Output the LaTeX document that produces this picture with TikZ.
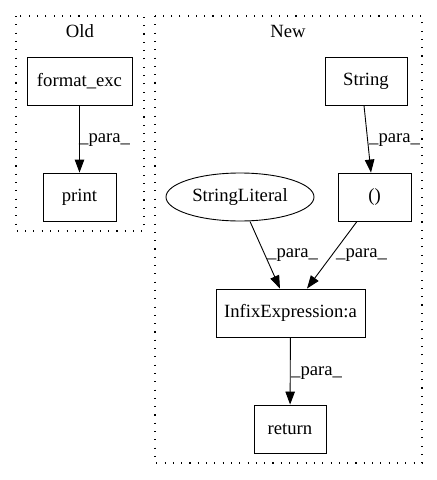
\documentclass[tikz,border=0pt]{standalone}
\usepackage{fontspec}
\setmainfont{Liberation Serif}
\usetikzlibrary{arrows.meta,shapes.geometric}
\begin{document}
\begin{tikzpicture}[x=1pt,y=-1pt,
  box/.style={draw,line width=0.9pt,rectangle,minimum height=48pt,inner sep=0pt,font=\fontsize{18.67}{21}\selectfont},
  ell/.style={draw,line width=0.9pt,ellipse,minimum width=148pt,minimum height=48pt,inner sep=0pt,font=\fontsize{18.67}{21}\selectfont},
  cluster/.style={draw,line width=1.2pt,dash pattern=on 1.1pt off 7.2pt},
  edge/.style={draw,line width=0.9pt,-{Triangle[length=13pt,width=9.5pt]}},
  lbl/.style={font=\fontsize{18.67}{21}\selectfont,inner sep=0pt,anchor=west},
  ttl/.style={font=\fontsize{18.67}{21}\selectfont,inner sep=0pt}]
\useasboundingbox (0,0) rectangle (437,480);
\draw[cluster] (16,16) rectangle (144,231);
\draw[cluster] (155,16) rectangle (422,463);
\node[ttl] (told) at (80,31) {Old};
\node[ttl] (tnew) at (288,31) {New};
\node[box,minimum width=105pt] (fmt) at (79.5,81) {format\_exc};
\node[box,minimum width=73pt] (print) at (79.5,197) {print};
\node[box,minimum width=82pt] (str) at (366,81) {String};
\node[box,minimum width=73pt] (par) at (374.5,197) {()};
\node[ell] (sl) at (240,197) {StringLiteral};
\node[box,minimum width=149pt] (inf) at (290.5,313) {InfixExpression:a};
\node[box,minimum width=72pt] (ret) at (290,429) {return};
\draw[edge] (fmt) -- (print);
\node[lbl] (l1) at (79,140) {\_para\_};
\draw[edge] (str.south -| 364,0) -- (par.north -| 371,0);
\node[lbl] (l2) at (369,140) {\_para\_};
\draw[edge] (sl.south -| 250,0) -- (inf.north -| 280,0);
\node[lbl] (l3) at (267,255) {\_para\_};
\draw[edge] (par.south -| 357,0) -- (inf.north -| 307,0);
\node[lbl] (l4) at (336,255) {\_para\_};
\draw[edge] (inf) -- (ret);
\node[lbl] (l5) at (291,373) {\_para\_};
\end{tikzpicture}
\end{document}
